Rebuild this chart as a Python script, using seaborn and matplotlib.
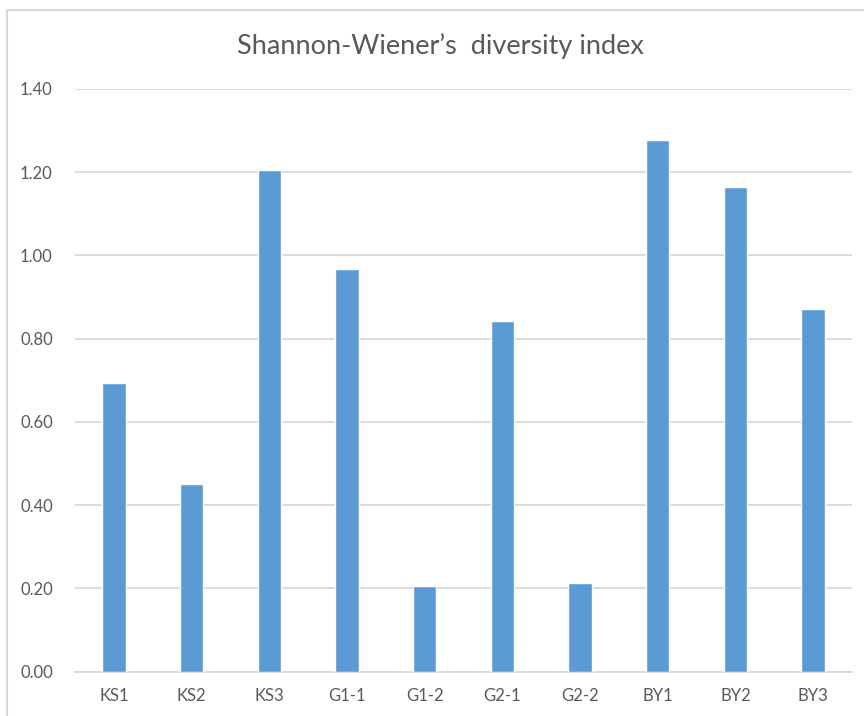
import matplotlib
matplotlib.use("Agg")
import matplotlib.pyplot as plt
import seaborn as sns
import pandas as pd
from matplotlib.patches import Rectangle

sites = ["KS1", "KS2", "KS3", "G1-1", "G1-2", "G2-1", "G2-2", "BY1", "BY2", "BY3"]
shannon = [0.693, 0.450, 1.205, 0.966, 0.205, 0.843, 0.214, 1.277, 1.164, 0.872]
yticks = [0.0, 0.2, 0.4, 0.6, 0.8, 1.0, 1.2, 1.4]

df = pd.DataFrame({"site": sites, "H": shannon})

sns.set_theme(style="white")
plt.rcParams["font.family"] = ["Liberation Sans Narrow", "Lato", "DejaVu Sans"]

fig = plt.figure(figsize=(8.64, 7.16), dpi=100)
ax = fig.add_axes([75 / 864, 0.062, (852 - 75) / 864, 0.814])

sns.barplot(data=df, x="site", y="H", color="#5B9BD5", saturation=1,
            width=0.3, ax=ax, zorder=3)

ax.set_ylim(0, 1.4)
ax.set_yticks(yticks)
ax.set_yticklabels([f"{v:.2f}" for v in yticks])
ax.yaxis.grid(True, color="#D9D9D9", linewidth=1.3, zorder=0)
ax.set_axisbelow(True)
for s in ["top", "right", "left"]:
    ax.spines[s].set_visible(False)
ax.spines["bottom"].set_color("#D9D9D9")
ax.spines["bottom"].set_linewidth(1.3)
ax.tick_params(axis="both", length=0, labelsize=12, colors="#595959", pad=12)
ax.tick_params(axis="y", pad=16)
ax.set_xlabel("")
ax.set_ylabel("")

fig.text(440 / 864, 0.935, "Shannon-Wiener\u2019s  diversity index", ha="center", va="center",
         fontsize=19.5, color="#595959")

# chart frame
fig.patches.append(Rectangle((7 / 864, -0.05), 1.2, 1 - 10 / 716 + 0.05,
                             transform=fig.transFigure, fill=False,
                             edgecolor="#D9D9D9", linewidth=1.5))

fig.savefig("out.png", dpi=100)
